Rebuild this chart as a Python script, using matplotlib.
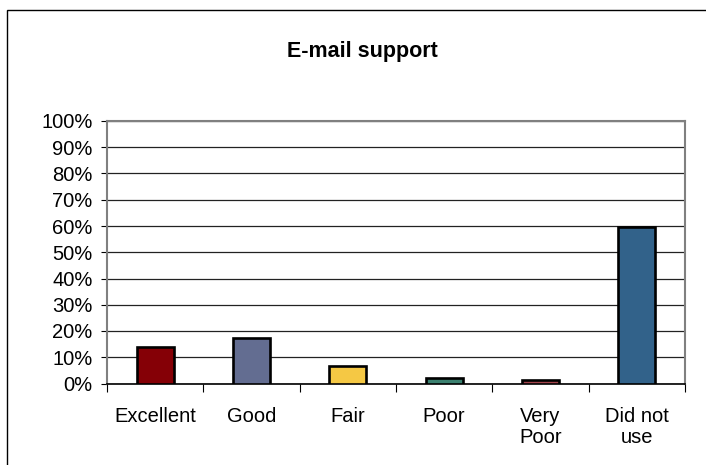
import matplotlib
matplotlib.use("Agg")
import matplotlib.pyplot as plt
from matplotlib.patches import Rectangle
from matplotlib.ticker import MultipleLocator, PercentFormatter

categories = ["Excellent", "Good", "Fair", "Poor", "Very\nPoor", "Did not\nuse"]
values = [13.8, 17.2, 6.8, 2.0, 1.2, 59.6]
colors = ["#850006", "#636D91", "#F5C844", "#3B8170", "#A3434B", "#32628A"]
title = "E-mail support"

plt.rcParams['font.family'] = ['Liberation Sans', 'DejaVu Sans']

fig = plt.figure(figsize=(7.06, 4.65), dpi=100)
W, H = 706, 465
# outer chart border
fig.patches.append(Rectangle((7 / W, -0.1), 1.2, 1 - 10 / H + 0.1, transform=fig.transFigure,
                             fill=False, edgecolor="black", linewidth=1.0))

left, right, top, bottom = 107, 685, 121, 383.5
ax = fig.add_axes([left / W, 1 - bottom / H, (right - left) / W, (bottom - top) / H])

x = list(range(len(categories)))
ax.bar(x, values, width=0.385, color=colors, edgecolor="black", linewidth=1.9, zorder=3)

ax.set_xlim(-0.5, len(categories) - 0.5)
ax.set_ylim(0, 100)
ax.yaxis.set_major_locator(MultipleLocator(10))
ax.yaxis.set_major_formatter(PercentFormatter(decimals=0))
ax.grid(axis="y", color="#222222", linewidth=0.9, zorder=0)

ax.set_xticks([i + 0.5 for i in range(-1, len(categories))], minor=False)
ax.set_xticklabels([])
ax.set_xticks(x, minor=True)
ax.set_xticklabels(categories, minor=True, linespacing=1.15)
ax.tick_params(axis="x", which="minor", length=0, pad=17, labelsize=14.5)
ax.tick_params(axis="x", which="major", length=6, direction="out", color="black")
ax.tick_params(axis="y", length=4, direction="out", labelsize=14.5, pad=6.5, color="black")

for s in ["top", "right"]:
    ax.spines[s].set_color("#808080")
    ax.spines[s].set_linewidth(1.5)
ax.spines["left"].set_color("#808080")
ax.spines["left"].set_linewidth(1.5)
ax.spines["bottom"].set_color("black")
ax.spines["bottom"].set_linewidth(1.2)

fig.text(362 / W, 1 - 51 / H, title, ha="center", va="center", fontsize=15.5, fontweight="bold")

fig.savefig("out.png", dpi=100)
